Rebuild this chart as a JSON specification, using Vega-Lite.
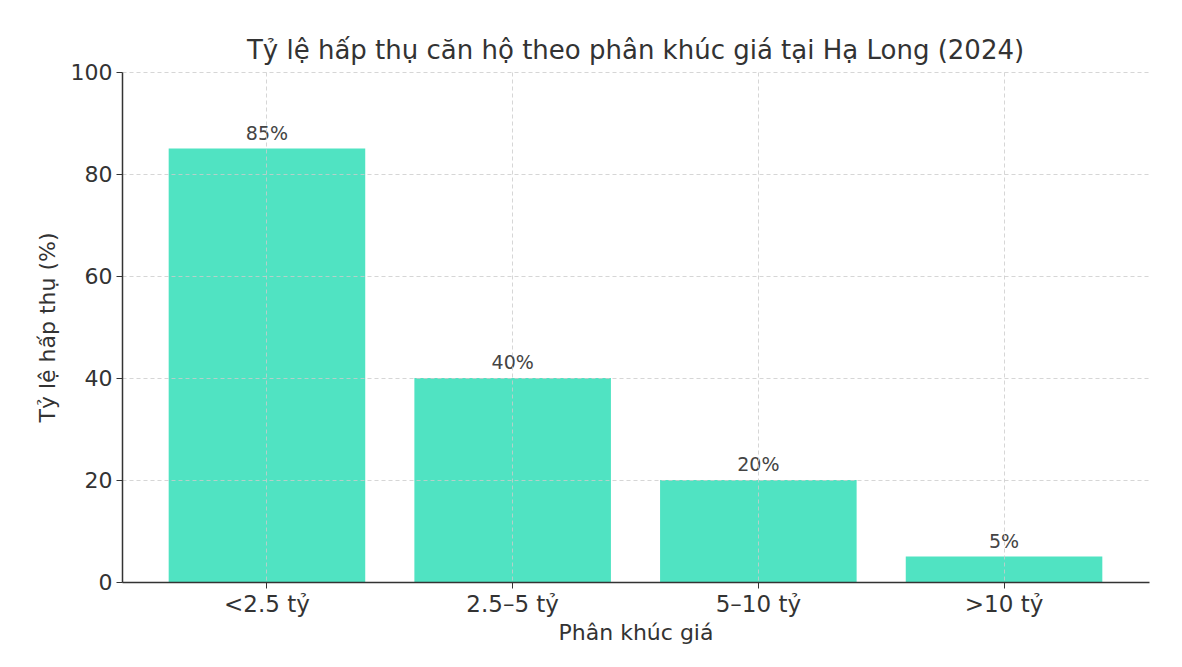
{
  "$schema": "https://vega.github.io/schema/vega-lite/v6.json",
  "width": 1027,
  "height": 510,
  "autosize": "none",
  "padding": {"left": 122, "top": 72, "right": 33, "bottom": 85},
  "background": "white",
  "config": {
    "font": "DejaVu Sans",
    "view": {"stroke": null}
  },
  "title": {
    "text": "Tỷ lệ hấp thụ căn hộ theo phân khúc giá tại Hạ Long (2024)",
    "fontSize": 26,
    "fontWeight": "normal",
    "color": "#333333",
    "offset": -3
  },
  "data": {
    "values": [
      {"segment": "<2.5 tỷ", "rate": 85, "label": "85%"},
      {"segment": "2.5–5 tỷ", "rate": 40, "label": "40%"},
      {"segment": "5–10 tỷ", "rate": 20, "label": "20%"},
      {"segment": ">10 tỷ", "rate": 5, "label": "5%"}
    ]
  },
  "encoding": {
    "x": {
      "field": "segment",
      "type": "nominal",
      "sort": null,
      "scale": {"paddingInner": 0.2, "paddingOuter": 0.19},
      "axis": {
        "title": "Phân khúc giá",
        "titleFontSize": 22,
        "titleFontWeight": "normal",
        "titleColor": "#333333",
        "titlePadding": 6,
        "labelFontSize": 23,
        "labelColor": "#333333",
        "labelAngle": 0,
        "labelPadding": 5,
        "domainColor": "#333333",
        "domainWidth": 1.5,
        "tickColor": "#333333",
        "tickSize": 6,
        "grid": true,
        "gridColor": "#cccccc",
        "gridDash": [4, 3],
        "gridOpacity": 0.8,
        "zindex": 1
      }
    },
    "y": {
      "field": "rate",
      "type": "quantitative",
      "scale": {"domain": [0, 100]},
      "axis": {
        "title": "Tỷ lệ hấp thụ (%)",
        "values": [0, 20, 40, 60, 80, 100],
        "titleFontSize": 22,
        "titleFontWeight": "normal",
        "titleColor": "#333333",
        "titlePadding": 11,
        "labelFontSize": 22,
        "labelColor": "#333333",
        "labelPadding": 4,
        "domainColor": "#333333",
        "domainWidth": 1.5,
        "tickColor": "#333333",
        "tickSize": 6,
        "grid": true,
        "gridColor": "#cccccc",
        "gridDash": [4, 3],
        "gridOpacity": 0.8,
        "zindex": 1
      }
    }
  },
  "layer": [
    {"mark": {"type": "bar", "color": "#50E3C2"}},
    {
      "mark": {"type": "text", "baseline": "bottom", "dy": -5, "fontSize": 19, "color": "#444444"},
      "encoding": {"text": {"field": "label", "type": "nominal"}}
    }
  ]
}
